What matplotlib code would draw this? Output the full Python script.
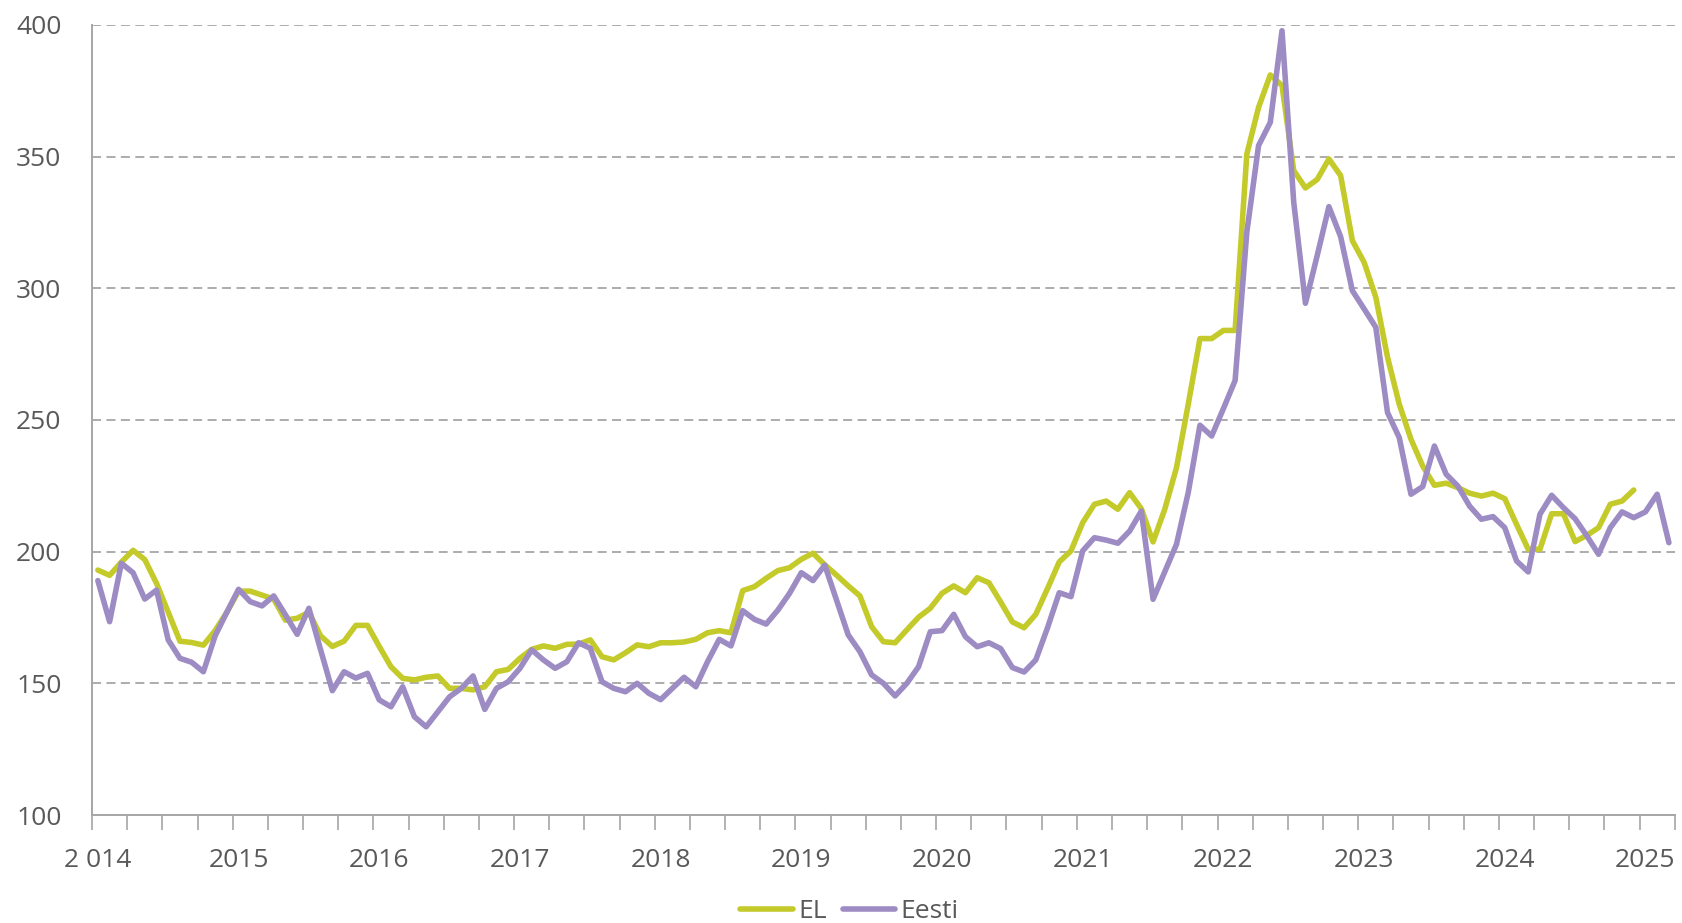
import matplotlib.pyplot as plt
import numpy as np

plt.rcParams['font.family'] = ['Open Sans', 'DejaVu Sans']

# Kuised andmed, jaanuar 2014 - märts 2025
el = [193, 191, 196, 200.5, 197, 188, 177, 166, 165.5, 164.5, 170, 177,
      185, 185, 183.5, 182, 174, 174.7, 177, 168, 164, 166, 172, 172,
      164, 156.3, 151.9, 151.3, 152.3, 152.8, 148.1, 148.1, 147.5, 148.7, 154.4, 155.3,
      159.5, 162.9, 164.2, 163.3, 164.8, 164.9, 166.5, 160.1, 158.9, 161.6, 164.6, 163.9,
      165.4, 165.4, 165.7, 166.7, 169.2, 170, 169.2, 185.2, 186.7, 189.9, 192.8, 193.9,
      197.1, 199.4, 195, 191.1, 187, 183.2, 171.5, 165.8, 165.4, 170.3, 175.1, 178.5,
      184.2, 187, 184.4, 190.1, 188.2, 180.9, 173.3, 171.1, 176.2, 186, 196.1, 200.3,
      211, 218, 219.2, 216.1, 222.4, 216.3, 203.7, 216.1, 231.9, 255.9, 280.9, 280.9,
      284, 284, 351, 368.7, 381, 377, 344.7, 338.1, 341.3, 349.1, 342.8, 318.1,
      309.9, 296.6, 273.8, 256, 242.7, 232.5, 225.2, 226, 224.3, 222.2, 221.1, 222.2,
      220.1, 210.4, 200.9, 200.9, 214.4, 214.4, 203.8, 206.2, 209.1, 218, 219.2, 223.4]

eesti = [189, 173.4, 195.6, 192, 182, 185.4, 166.5, 159.5, 158, 154.4, 168, 177,
         185.7, 181, 179.4, 183.2, 176, 168.6, 178.5, 162.7, 147.2, 154.4, 152, 153.8,
         143.7, 141.1, 148.7, 137.3, 133.5, 139.2, 144.9, 148.1, 152.8, 140.1, 148.1, 150.6,
         155.7, 162.7, 158.9, 155.7, 158.2, 165.4, 163.3, 150.6, 148.1, 146.8, 150, 146.2,
         143.8, 148.1, 152.3, 148.7, 158.2, 166.7, 164.2, 177.6, 174.3, 172.5, 177.8, 184.2,
         192, 189, 194.9, 181.6, 168.4, 162, 153.2, 150, 145.2, 150, 156.3, 169.6,
         170, 176.2, 167.7, 163.9, 165.4, 163.2, 156, 154.3, 158.9, 171.1, 184.4, 182.9,
         200.3, 205.3, 204.4, 203.2, 207.8, 215.4, 181.9, 192.3, 202.8, 222.4, 248, 243.9,
         254.3, 265, 321.3, 354.2, 363, 397.8, 332.7, 294.3, 312.4, 331, 319.6, 299.1,
         292.2, 285.2, 252.8, 243.3, 221.8, 224.7, 240.1, 229.4, 224.9, 217.3, 212.3, 213.3,
         209.1, 196.5, 192.3, 214.2, 221.4, 216.7, 212.5, 206, 199, 209.1, 215.1, 212.9,
         215.1, 221.8, 203.4]

aastad = ['2 014', '2015', '2016', '2017', '2018', '2019', '2020',
          '2021', '2022', '2023', '2024', '2025']

n_kuud = len(eesti)

fig = plt.figure(figsize=(16.82, 9.23), dpi=100)
ax = fig.add_axes([0.0547, 0.117, 0.941, 0.856])

ax.plot(range(len(el)), el, color='#c3ca2a', lw=4, label='EL', solid_capstyle='round')
ax.plot(range(n_kuud), eesti, color='#9d8bc3', lw=4, label='Eesti', solid_capstyle='round')

ax.set_xlim(-0.5, n_kuud - 0.5)
ax.set_ylim(100, 400)
ax.set_yticks(np.arange(100, 401, 50))
ax.grid(axis='y', color='#a6a6a6', linestyle=(0, (5, 3)), lw=1.3)
ax.set_axisbelow(True)

# aasta sildid jaanuari kohal, kvartali kriipsud kategooriate vahel
ax.set_xticks(np.arange(0, n_kuud, 12))
ax.set_xticklabels(aastad)
ax.set_xticks(np.arange(-0.5, n_kuud, 3), minor=True)
ax.tick_params(axis='x', which='major', length=0, pad=24, labelsize=19, colors='#595959')
ax.tick_params(axis='x', which='minor', length=11, width=1.2, color='#a6a6a6', direction='out')
ax.tick_params(axis='y', length=0, pad=22, labelsize=19, colors='#595959')

for s in ['top', 'right']:
    ax.spines[s].set_visible(False)
for s in ['left', 'bottom']:
    ax.spines[s].set_color('#a6a6a6')
    ax.spines[s].set_linewidth(1.4)

leg = fig.legend(loc='lower center', bbox_to_anchor=(0.505, -0.027), ncol=2, frameon=False,
                 fontsize=19, handlelength=2.0, handletextpad=0.2, columnspacing=0.6)
for t in leg.get_texts():
    t.set_color('#595959')

plt.savefig('out.png', dpi=100)
